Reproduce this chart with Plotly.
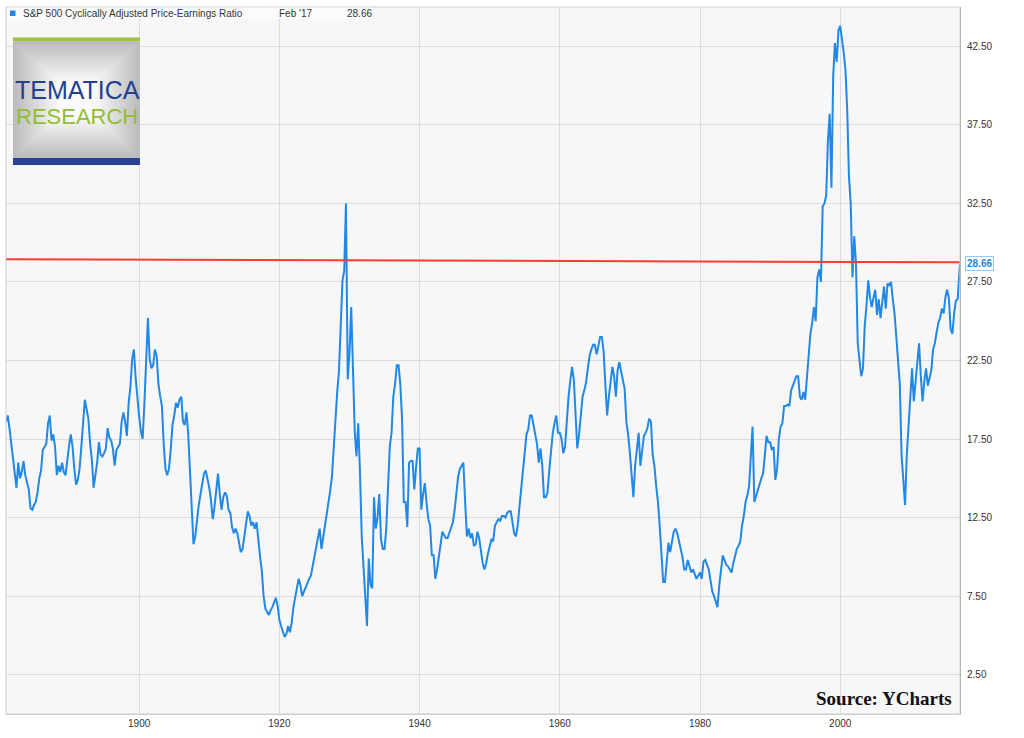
import plotly.graph_objects as go
import pandas as pd

# Shiller CAPE: one value per quarter (Jan, Apr, Jul, Oct)
cape_quarterly = [
    18.6, 19.0, 18.2, 17.2,  # 1881
    16.4, 15.6, 14.4, 16.0,
    15.0, 15.4, 16.1, 15.2,
    14.8, 14.3, 13.1, 13.0,
    13.3, 13.5, 14.1, 15.0,  # 1885
    15.5, 16.8, 17.0, 17.2,
    18.5, 19.0, 17.4, 17.8,
    17.0, 15.2, 15.8, 15.4,
    16.0, 15.4, 15.2, 16.4,
    17.1, 17.8, 17.0, 15.6,  # 1890
    14.6, 14.9, 15.6, 17.0,
    18.6, 20.0, 19.4, 18.8,
    17.2, 16.2, 14.4, 15.2,
    16.0, 17.3, 16.5, 16.4,
    16.6, 16.9, 18.2, 17.6,  # 1895
    17.4, 16.9, 15.8, 16.8,
    17.0, 17.2, 18.6, 19.2,
    18.6, 17.7, 19.8, 20.8,
    22.6, 23.2, 21.4, 20.0,
    18.9, 18.0, 17.5, 19.8,  # 1900
    22.8, 25.2, 22.6, 22.0,
    22.2, 23.2, 22.8, 21.0,
    20.2, 19.6, 17.2, 15.6,
    15.2, 15.6, 16.8, 18.4,
    19.0, 19.8, 19.5, 20.0,  # 1905
    20.2, 18.6, 18.4, 19.2,
    17.8, 15.2, 13.4, 10.8,
    11.3, 12.4, 13.3, 14.0,
    14.7, 15.3, 15.5, 15.0,
    14.4, 13.6, 12.4, 13.2,  # 1910
    14.4, 15.3, 14.0, 13.0,
    13.8, 14.1, 13.9, 13.0,
    12.8, 11.9, 11.5, 11.8,
    11.5, 11.0, 10.3, 10.5,
    11.3, 12.0, 12.9, 12.6,  # 1915
    12.0, 12.2, 11.8, 12.2,
    10.8, 10.0, 9.1, 7.5,
    6.7, 6.5, 6.3, 6.6,
    6.8, 7.1, 7.4, 6.9,
    6.0, 5.6, 5.3, 4.9,      # 1920
    5.1, 5.6, 5.2, 5.8,
    6.8, 7.5, 8.0, 8.6,
    8.2, 7.5, 7.8, 8.1,
    8.3, 8.6, 8.8, 9.4,
    9.9, 10.5, 11.1, 11.8,   # 1925
    10.5, 11.2, 12.0, 12.6,
    13.2, 14.2, 15.1, 17.0,
    18.8, 20.5, 21.8, 25.3,
    27.6, 28.2, 32.5, 21.3,
    23.0, 25.9, 21.3, 18.0,  # 1930
    16.4, 18.5, 15.4, 11.3,
    9.4, 7.2, 5.6, 9.9,
    8.2, 8.0, 13.8, 11.8,
    12.5, 14.0, 11.1, 10.5,
    10.5, 11.8, 14.7, 17.0,  # 1935
    17.9, 20.2, 21.0, 22.2,
    22.2, 21.0, 18.8, 13.5,
    13.5, 11.9, 16.0, 16.1,
    16.1, 14.3, 15.7, 16.9,
    16.9, 13.0, 14.0, 14.7,  # 1940
    13.4, 12.4, 12.0, 10.1,
    10.1, 8.6, 9.2, 10.0,
    11.1, 11.6, 11.4, 11.2,
    11.2, 11.5, 11.8, 12.2,
    13.0, 14.0, 15.1, 15.6,  # 1945
    15.8, 16.0, 13.5, 11.3,
    11.8, 11.2, 11.5, 10.7,
    10.8, 11.6, 11.2, 10.3,
    9.6, 9.2, 9.6, 10.2,
    10.6, 11.1, 11.0, 12.0,  # 1950
    12.2, 12.4, 12.3, 12.6,
    12.6, 12.5, 12.8, 12.9,
    12.9, 12.2, 11.5, 11.3,
    12.0, 13.2, 14.3, 15.2,
    16.4, 17.8, 18.1, 19.0,  # 1955
    19.0, 18.4, 18.0, 17.2,
    16.0, 16.9, 15.8, 13.8,
    13.8, 14.1, 15.5, 17.0,
    17.9, 18.5, 19.0, 17.9,
    17.9, 17.5, 16.6, 17.0,  # 1960
    18.8, 20.2, 21.2, 22.1,
    21.3, 19.0, 16.9, 17.8,
    19.2, 20.2, 20.6, 21.1,
    22.0, 22.8, 23.2, 23.5,
    23.5, 22.9, 23.4, 24.0,  # 1965
    24.0, 23.1, 21.0, 19.0,
    20.2, 21.3, 22.1, 21.5,
    20.2, 21.9, 22.4, 21.8,
    21.3, 20.7, 18.6, 17.8,
    16.6, 15.0, 13.8, 15.8,  # 1970
    17.0, 17.9, 15.8, 16.8,
    17.7, 17.9, 18.2, 18.8,
    18.6, 16.5, 15.8, 14.5,
    13.5, 12.0, 10.3, 8.4,
    8.4, 9.8, 10.9, 10.3,    # 1975
    11.0, 11.6, 11.8, 11.5,
    11.0, 10.5, 10.0, 9.2,
    9.2, 9.8, 9.4, 9.0,
    9.2, 8.9, 8.6, 8.8,
    9.0, 8.6, 9.7, 9.8,      # 1980
    9.5, 9.2, 8.5, 7.8,
    7.5, 7.2, 6.8, 8.2,
    9.0, 10.1, 9.8, 9.5,
    9.4, 9.2, 9.0, 9.6,
    10.0, 10.5, 10.7, 11.0,  # 1985
    12.0, 12.6, 13.5, 13.9,
    14.5, 16.4, 18.3, 13.5,
    13.9, 14.3, 14.7, 15.0,
    15.3, 16.5, 17.7, 17.3,
    17.3, 16.8, 17.0, 14.9,  # 1990
    15.6, 17.5, 18.3, 18.5,
    19.6, 19.6, 19.7, 19.6,
    20.6, 20.9, 21.2, 21.5,
    21.5, 20.2, 20.0, 20.5,
    20.0, 21.5, 23.2, 24.2,  # 1995
    24.9, 25.9, 25.0, 27.8,
    28.3, 27.5, 32.3, 32.5,
    33.0, 36.5, 38.2, 33.5,
    40.6, 42.7, 41.5, 43.5,
    43.8, 43.0, 42.1, 41.0,  # 2000
    38.4, 34.2, 32.5, 27.8,
    30.4, 28.7, 23.6, 22.5,
    21.5, 22.0, 24.7, 26.0,
    27.6, 26.5, 25.9, 26.5,
    27.0, 25.4, 26.4, 25.2,  # 2005
    26.2, 27.2, 25.8, 27.4,
    27.3, 27.5, 26.4, 25.5,
    24.0, 22.5, 21.0, 16.5,
    15.0, 13.3, 16.5, 18.5,
    20.3, 22.0, 19.9, 21.0,  # 2010
    22.5, 23.6, 21.5, 19.9,
    21.2, 22.0, 20.9, 21.5,
    21.9, 23.2, 23.6, 24.3,
    24.9, 25.2, 25.8, 25.5,
    26.5, 27.0, 26.5, 24.5,  # 2015
    24.2, 25.5, 26.3, 26.4,
]
# last few monthly readings up to the latest value
tail_dates = ["2016-12-01", "2017-01-01", "2017-02-01"]
tail_values = [27.9, 28.1, 28.66]

series_name = "S&P 500 Cyclically Adjusted Price-Earnings Ratio"
last_label = "Feb '17"
last_value = 28.66
red_line_start = 28.95   # red reference line, left end
red_line_end = 28.75     # red reference line, right end

dates = list(pd.date_range("1881-01-01", periods=len(cape_quarterly), freq="QS"))
dates += list(pd.to_datetime(tail_dates))
values = cape_quarterly + tail_values

W, H = 1024, 738
L, R, T, B = 6, 64, 7, 24


def px(x):
    # pixel column -> paper x
    return (x - L) / (W - L - R)


def py(y):
    # pixel row -> paper y
    return (H - B - y) / (H - T - B)


fig = go.Figure()
fig.add_trace(go.Scatter(x=dates, y=values, mode="lines", name=series_name,
                         line=dict(color="#2188e6", width=2), hoverinfo="x+y"))

shapes = []
# red horizontal line across the plot
shapes.append(dict(type="line", xref="paper", yref="y", x0=0, x1=1,
                   y0=red_line_start, y1=red_line_end,
                   line=dict(color="#fa3c32", width=2)))
# frame round the plot
shapes.append(dict(type="rect", xref="paper", yref="paper", x0=0, x1=1, y0=0, y1=1,
                   line=dict(color="#cfcfcf", width=1)))
# white strip behind the legend row
shapes.append(dict(type="rect", xref="paper", yref="paper",
                   x0=px(7), x1=px(372), y0=py(19), y1=py(7.5),
                   fillcolor="#fbfbfb", line=dict(width=0)))
shapes.append(dict(type="rect", xref="paper", yref="paper",
                   x0=px(10), x1=px(15.5), y0=py(16), y1=py(10.5),
                   fillcolor="#2188e6", line=dict(width=0)))

# logo: grey box that lightens toward the middle
n_steps = 18
x0, x1, y0, y1 = 13, 140, 41, 158
for i in range(n_steps):
    g = int(188 + (250 - 188) * i / (n_steps - 1))
    d = i * 2.6
    shapes.append(dict(type="rect", xref="paper", yref="paper",
                       x0=px(x0 + d), x1=px(x1 - d), y0=py(y1 - d * 0.9), y1=py(y0 + d * 0.9),
                       fillcolor="rgb(%d,%d,%d)" % (g, g, g), line=dict(width=0)))
shapes.append(dict(type="rect", xref="paper", yref="paper",
                   x0=px(13), x1=px(140), y0=py(41), y1=py(37.5),
                   fillcolor="#9dc33b", line=dict(width=0)))
shapes.append(dict(type="rect", xref="paper", yref="paper",
                   x0=px(13), x1=px(140), y0=py(165), y1=py(158),
                   fillcolor="#2a3f96", line=dict(width=0)))

annotations = [
    dict(text=series_name, x=px(21), y=py(13.5), xref="paper", yref="paper",
         xanchor="left", yanchor="middle", showarrow=False,
         font=dict(family="Liberation Sans, Arial", size=10, color="#333")),
    dict(text=last_label, x=px(277), y=py(13.5), xref="paper", yref="paper",
         xanchor="left", yanchor="middle", showarrow=False,
         font=dict(family="Liberation Sans, Arial", size=10, color="#333")),
    dict(text="%.2f" % last_value, x=px(345), y=py(13.5), xref="paper", yref="paper",
         xanchor="left", yanchor="middle", showarrow=False,
         font=dict(family="Liberation Sans, Arial", size=10, color="#333")),
    dict(text="TEMATICA", x=px(77), y=py(90), xref="paper", yref="paper",
         xanchor="center", yanchor="middle", showarrow=False,
         font=dict(family="Liberation Sans, Arial", size=25, color="#22408e")),
    dict(text="RESEARCH", x=px(77), y=py(116), xref="paper", yref="paper",
         xanchor="center", yanchor="middle", showarrow=False,
         font=dict(family="Liberation Sans Narrow, Liberation Sans, Arial", size=22, color="#92bd30")),
    dict(text="<b>Source: YCharts</b>", x=px(954), y=py(698), xref="paper", yref="paper",
         xanchor="right", yanchor="middle", showarrow=False,
         font=dict(family="Liberation Serif, Times New Roman", size=19, color="#111")),
    dict(text="<b>%.2f</b>" % last_value, x=1, y=last_value, xref="paper", yref="y",
         xanchor="left", yanchor="middle", showarrow=False, xshift=5,
         bgcolor="white", bordercolor="#9cc6ee", borderwidth=1, borderpad=1,
         font=dict(family="Liberation Sans, Arial", size=10, color="#2188e6")),
]

fig.update_layout(
    width=W, height=H,
    margin=dict(l=L, r=R, t=T, b=B),
    paper_bgcolor="white", plot_bgcolor="#f7f7f7",
    showlegend=False,
    shapes=shapes, annotations=annotations,
    font=dict(family="Liberation Sans, Arial", size=10, color="#333"),
)
fig.update_xaxes(type="date", range=[dates[0], dates[-1]],
                 tick0="1900-01-01", dtick="M240", tickformat="%Y",
                 showgrid=True, gridcolor="#dcdcdc", zeroline=False,
                 showline=True, linecolor="#c8c8c8", ticks="",
                 tickfont=dict(size=10, color="#333"))
fig.update_yaxes(side="right", range=[0, 45], tick0=2.5, dtick=5, tickformat=".2f",
                 showgrid=True, gridcolor="#dcdcdc", zeroline=False,
                 showline=True, linecolor="#9a9a9a", ticks="", ticklabelstandoff=4,
                 tickfont=dict(size=10, color="#333"))

# the page's default 8px body margin would shift the chart
fig.write_html("out.html", config={"displayModeBar": False},
               post_script="document.body.style.margin='0';")
